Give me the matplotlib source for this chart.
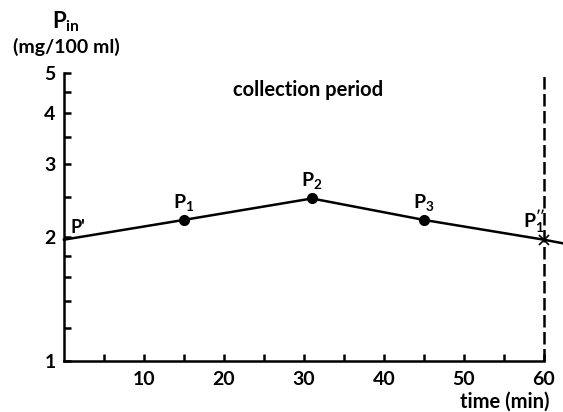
import matplotlib.pyplot as plt
import numpy as np

plt.rcParams['font.family'] = ['Lato', 'DejaVu Sans']
plt.rcParams['font.weight'] = 'bold'
plt.rcParams['mathtext.fontset'] = 'custom'
plt.rcParams['mathtext.rm'] = 'Lato:bold'
plt.rcParams['mathtext.it'] = 'Lato:bold'
plt.rcParams['mathtext.bf'] = 'Lato:bold'

# plasma inulin concentration during the collection period
time_min = [0, 15, 31, 45, 60, 62.4]
p_in = [1.97, 2.2, 2.48, 2.2, 1.97, 1.93]
point_names = ["P'", r'$\mathrm{P_1}$', r'$\mathrm{P_2}$', r'$\mathrm{P_3}$', r"$\mathrm{P_1''}$"]

x_major = [10, 20, 30, 40, 50, 60]
x_minor = [5, 15, 25, 35, 45, 55]
y_major = [1, 2, 3, 4, 5]
y_minor = [1.2, 1.4, 1.6, 1.8, 2.5, 3.5, 4.5]
period_end = 60

fig = plt.figure(figsize=(5.63, 4.12), dpi=100)
ax = fig.add_axes([64 / 563, 51 / 412, 499 / 563, 288 / 412])

ax.set_yscale('log')
ax.set_xlim(0, 62.4)
ax.set_ylim(1, 5)

ax.plot(time_min, p_in, color='black', lw=1.8, clip_on=False, zorder=3)
ax.plot(time_min[1:4], p_in[1:4], 'o', color='black', ms=7, zorder=4)
ax.plot(time_min[4], p_in[4], 'x', color='black', ms=7, mew=1.2, zorder=4)

# end of the collection period
ax.plot([period_end, period_end], [1, 5.02], color='black', lw=1.8,
        ls=(0, (5, 1.8)), clip_on=False)

# point labels
ax.text(time_min[0] + 0.8, p_in[0] * 1.02, point_names[0], fontsize=13,
        ha='left', va='bottom')
for i in range(1, 4):
    ax.text(time_min[i], p_in[i] * 1.04, point_names[i], fontsize=14,
            ha='center', va='bottom')
ax.text(time_min[4] + 0.2, p_in[4] * 1.025, point_names[4], fontsize=14,
        ha='right', va='bottom')

ax.text(30.5, 4.55, 'collection period', fontsize=14.5, ha='center', va='center')

ax.spines['top'].set_visible(False)
ax.spines['right'].set_visible(False)
ax.spines['bottom'].set_bounds(0, 60)
for s in ['left', 'bottom']:
    ax.spines[s].set_linewidth(1.8)

ax.set_xticks(x_major)
ax.set_xticks(x_minor, minor=True)
ax.set_yticks(y_major)
ax.set_yticklabels([str(v) for v in y_major])
ax.set_yticks(y_minor, minor=True)
ax.yaxis.set_minor_formatter(plt.NullFormatter())
ax.tick_params(which='both', direction='in', width=1.8, labelsize=14, pad=6)
ax.tick_params(which='major', length=5)
ax.tick_params(which='minor', length=5)
ax.tick_params(axis='x', pad=7)

fig.text(66 / 563, 1 - 22 / 412, r'$\mathrm{P_{in}}$', fontsize=16,
         ha='center', va='center')
fig.text(66 / 563, 1 - 47 / 412, '(mg/100 ml)', fontsize=14,
         ha='center', va='center')
fig.text(549 / 563, 1 - 402 / 412, 'time (min)', fontsize=14.5,
         ha='right', va='center')

fig.savefig('out.png', dpi=100)
